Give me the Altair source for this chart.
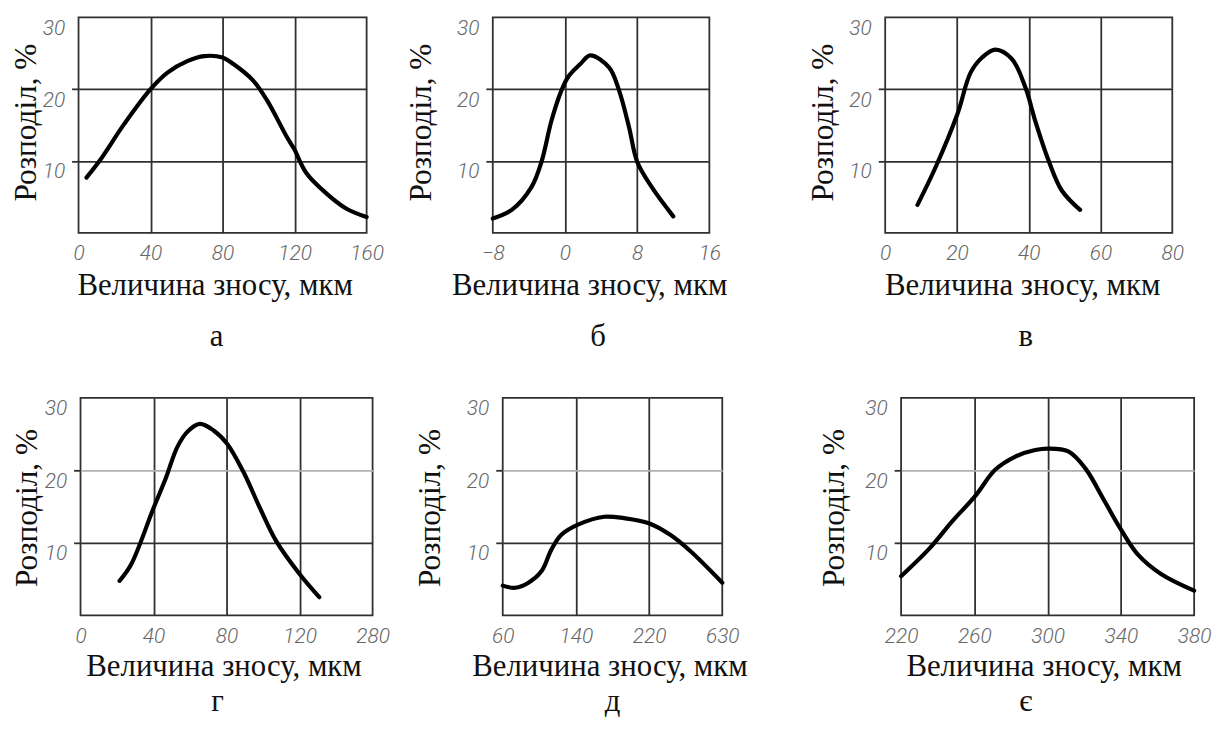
import altair as alt
import pandas as pd

# ---------------- data ----------------
a_x = [4.4, 11.6, 25.5, 40, 49.4, 60.4, 69.8, 80, 86, 97, 104.8, 115.8, 119.7, 126.6, 137.6, 148.6, 160]
a_y = [7.7, 10.0, 15.2, 20, 22.3, 23.9, 24.6, 24.4, 23.5, 21.2, 18.4, 13.3, 11.7, 8.3, 5.5, 3.4, 2.2]

b_x = [-8, -5.9, -3.7, -2.6, -1.5, -0.4, 0.4, 1.7, 2.8, 4.9, 6.0, 7.1, 8.0, 9.6, 12.0]
b_y = [2.0, 3.2, 6.4, 9.9, 15.6, 19.8, 21.8, 23.5, 24.7, 23.0, 19.8, 14.7, 9.9, 6.4, 2.3]

c_x = [9.0, 14.1, 20.1, 23.8, 27.0, 30.7, 35.3, 39.1, 41.8, 45.5, 49.2, 54.3]
c_y = [3.9, 9.2, 16.5, 22.3, 24.4, 25.5, 24.2, 20.2, 15.6, 10.1, 5.9, 3.2]

g_x = [21.4, 27.7, 40.0, 46.7, 53.0, 58.5, 65.3, 72.9, 80.2, 89.2, 98.3, 107.3, 120, 130.8]
g_y = [4.75, 7.0, 14.8, 18.9, 23.2, 25.3, 26.4, 25.5, 23.7, 19.8, 14.8, 10.2, 5.7, 2.5]

d_x = [60, 73.7, 88.1, 102.5, 113.3, 124.1, 142.2, 171, 192.6, 219.7, 243.1, 264.7, 300]
d_y = [4.1, 3.8, 4.5, 6.1, 9.1, 11.1, 12.5, 13.6, 13.4, 12.7, 11.1, 8.9, 4.5]

e_x = [220, 235.4, 248.0, 260.3, 271.5, 282.4, 293.2, 300.4, 311.3, 320.5, 331.2, 339.4, 349.2, 361.9, 380]
e_y = [5.4, 9.2, 13.0, 16.4, 20.1, 21.9, 22.8, 23.0, 22.6, 20.3, 15.7, 12.1, 8.4, 5.7, 3.4]

# tick values and their printed labels
a_ticks = [0, 40, 80, 120, 160]
a_labels = ["0", "40", "80", "120", "160"]
b_ticks = [-8, 0, 8, 16]
b_labels = ["\u22128", "0", "8", "16"]
c_ticks = [0, 20, 40, 60, 80]
c_labels = ["0", "20", "40", "60", "80"]
g_ticks = [0, 40, 80, 120, 160]
g_labels = ["0", "40", "80", "120", "280"]
d_ticks = [60, 140, 220, 300]
d_labels = ["60", "140", "220", "630"]
e_ticks = [220, 260, 300, 340, 380]
e_labels = ["220", "260", "300", "340", "380"]

y_ticks = [0, 10, 20, 30]
y_labels = ["", "10", "20", "30"]

letters = ["а", "б", "в", "г", "д", "є"]
x_title = "Величина зносу, мкм"
y_title = "Розподіл, %"

TICK_FONT = "Roboto, Liberation Sans, sans-serif"
SERIF = "Liberation Serif, Times New Roman, serif"
GRID = "#303030"
GW = 1.8


def label_expr(vals, labs):
    expr = "datum.label"
    for v, l in zip(vals, labs):
        expr = f"datum.value == {v} ? '{l}' : ({expr})"
    return expr


def panel(xs, ys, ticks, labels, width, height, ytx, yty, xtx, xty,
          letter, letter_dx, letter_off, light20):
    df = pd.DataFrame({"x": xs, "y": ys})
    grid_color = {"condition": {"test": "datum.value == 20",
                                "value": "#b0b0b0" if light20 else GRID},
                  "value": GRID}
    edge_x = f"datum.value == {ticks[0]} || datum.value == {ticks[-1]}"
    edge_y = "datum.value == 0 || datum.value == 30"
    xaxis = alt.Axis(
        values=ticks, labelExpr=label_expr(ticks, labels), title=x_title,
        ticks=False, domain=False, grid=True, gridColor=GRID, gridWidth=GW,
        gridOpacity={"condition": {"test": edge_x, "value": 0}, "value": 1},
        labelFont=TICK_FONT, labelFontStyle="italic", labelFontSize=21,
        labelFontWeight=300,
        labelColor="#666666", labelPadding=10, labelFlush=False,
        labelOverlap=False, labelAlign="center",
        titleFont=SERIF, titleFontSize=31, titleFontWeight="normal",
        titleColor="#111111", titleX=xtx, titleY=xty,
        titleBaseline="alphabetic", titleAlign="center",
    )
    yaxis = alt.Axis(
        values=y_ticks, labelExpr=label_expr(y_ticks, y_labels), title=y_title,
        ticks=True, tickSize=7, tickWidth=GW, tickColor=GRID,
        tickOpacity={"condition": {"test": edge_y, "value": 0}, "value": 1},
        domain=False, grid=True, gridColor=grid_color, gridWidth=GW,
        gridOpacity={"condition": {"test": edge_y, "value": 0}, "value": 1},
        labelFont=TICK_FONT, labelFontStyle="italic", labelFontSize=21,
        labelFontWeight=300,
        labelColor="#666666", labelPadding=7, labelFlush=False,
        labelOverlap=False, labelBaseline="top",
        titleFont=SERIF, titleFontSize=31.5, titleFontWeight="normal",
        titleColor="#111111", titleAngle=270, titleX=-ytx, titleY=yty,
        titleBaseline="alphabetic", titleAlign="center",
    )
    dom = [ticks[0], ticks[-1]]
    return (
        alt.Chart(df)
        .mark_line(color="black", strokeWidth=4.2, interpolate="catmull-rom",
                   strokeCap="round", strokeJoin="round")
        .encode(
            x=alt.X("x:Q", scale=alt.Scale(domain=dom, nice=False, zero=False), axis=xaxis),
            y=alt.Y("y:Q", scale=alt.Scale(domain=[0, 30], nice=False), axis=yaxis),
        )
        .properties(
            width=width, height=height,
            view=alt.ViewBackground(stroke=GRID, strokeWidth=GW),
            title=alt.TitleParams(text=letter, orient="bottom", anchor="middle",
                                  dx=letter_dx, offset=letter_off, font=SERIF,
                                  fontSize=31, fontWeight="normal", color="#111111",
                                  baseline="alphabetic"),
        )
    )


def spacer(w, h):
    return (
        alt.Chart(pd.DataFrame({"v": [0]}))
        .mark_point(opacity=0)
        .encode(x=alt.value(0), y=alt.value(0))
        .properties(width=w, height=h, view=alt.ViewBackground(strokeOpacity=0))
    )


H1, H2 = 217, 219
pa = panel(a_x, a_y, a_ticks, a_labels, 290, H1, 43.7, 105.5, 137, 62, letters[0], -6, 46, False)
pb = panel(b_x, b_y, b_ticks, b_labels, 218, H1, 62.3, 105.5, 97, 62, letters[1], -3, 46, False)
pc = panel(c_x, c_y, c_ticks, c_labels, 289, H1, 53, 105.5, 138, 62, letters[2], -3, 46, False)
pg = panel(g_x, g_y, g_ticks, g_labels, 294, H2, 44.7, 110.5, 144, 61, letters[3], -9, 29, True)
pd_ = panel(d_x, d_y, d_ticks, d_labels, 221, H2, 64, 110.5, 107.5, 61, letters[4], 0, 29, True)
pe = panel(e_x, e_y, e_ticks, e_labels, 295, H2, 58.3, 110.5, 143.5, 61, letters[5], -22, 29, True)

row1 = alt.hconcat(pa, spacer(127, H1), pb, spacer(177, H1), pc, spacing=0, bounds="flush")
row2 = alt.hconcat(spacer(2, H2), pg, spacer(131, H2), pd_, spacer(180, H2), pe,
                   spacing=0, bounds="flush")

chart = (
    alt.vconcat(row1, row2, spacing=383, bounds="flush")
    .properties(padding={"left": 1, "top": 4, "right": 5, "bottom": 5})
    .configure(background="white")
)

chart.save("out.html", embed_options={"renderer": "svg", "actions": False})
